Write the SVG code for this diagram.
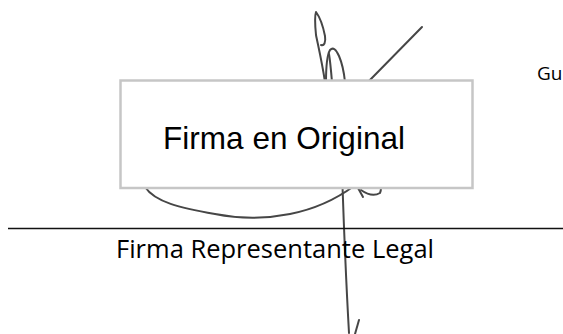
<svg xmlns="http://www.w3.org/2000/svg" width="563" height="334" viewBox="0 0 563 334">
<style>
.ink{fill:none;stroke:#464646;stroke-width:2;stroke-linecap:round;stroke-linejoin:round}
.cal{font-family:"Open Sans","Noto Sans","Liberation Sans",sans-serif;fill:#000}
.ari{font-family:"Liberation Sans",Arial,sans-serif;fill:#000}
</style>
<rect width="563" height="334" fill="#fff"/>
<g id="signature">
<path class="ink" d="M325,82 C322,62 318,45 316,35 C315,25 315,15 316,12 C319,16 323,26 325,36 C326,43 324,46 321,45"/>
<path class="ink" d="M326,82 C326,66 327,55 330,50 C333,47 336,49 339,56 C342,63 344,72 345,82"/>
<path class="ink" d="M332,82 C331,70 330,60 329,54"/>
<path class="ink" d="M422,27 L368,82"/>
<path class="ink" d="M145,187 C155,202 180,208 215,214 C240,219 265,219 290,214 C315,209 335,200 354,186"/>
<path class="ink" d="M342.5,186 C344,230 346,280 349,333"/>
<path class="ink" d="M359,320 L355,334"/>
<path class="ink" d="M358,188 L363,197"/>
<path class="ink" d="M361,190 C368,195 375,196 380,193 C381,191 381,189 381,187"/>
</g>
<g id="stamp">
<rect x="120.5" y="80.5" width="352" height="107.5" fill="#fff" stroke="#c6c6c6" stroke-width="2.5"/>
<text class="ari" x="163" y="149" font-size="31.5" textLength="242">Firma en Original</text>
</g>
<g id="signature-line">
<line x1="8" y1="228.5" x2="563" y2="228.5" stroke="#111" stroke-width="1.5"/>
<text class="cal" x="116" y="257.5" font-size="25.5" textLength="318">Firma Representante Legal</text>
</g>
<g id="city">
<text class="cal" x="537" y="80" font-size="19">Gu</text>
</g>
</svg>
